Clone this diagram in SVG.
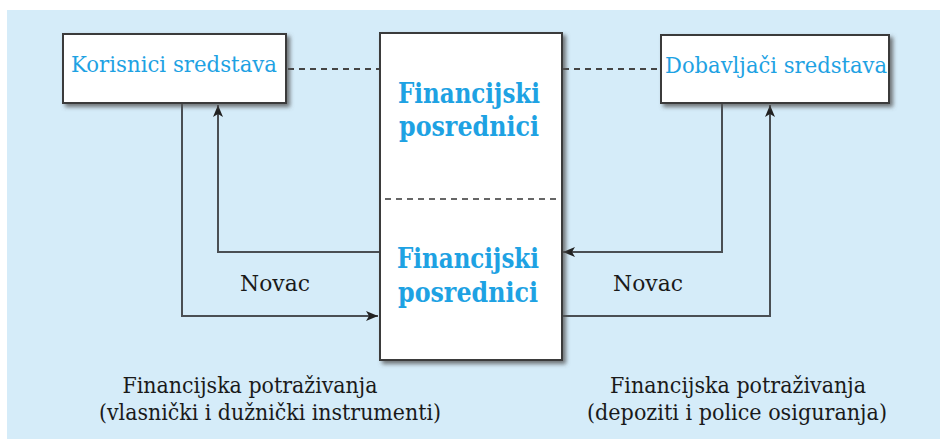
<svg xmlns="http://www.w3.org/2000/svg" width="940" height="439" viewBox="0 0 940 439">
<defs>
<style>
text{font-family:'DejaVu Serif','Liberation Serif',serif}
.box{fill:#fff;stroke:#3a3a3a;stroke-width:2;filter:url(#sh)}
.lbl{font-size:23px;fill:#1ea2e3;text-anchor:middle}
.big{font-size:27px;font-weight:bold;fill:#1ea2e3;text-anchor:middle}
.txt{font-size:23px;fill:#1a1a1a;text-anchor:middle}
.ln{fill:none;stroke:#4a4f54;stroke-width:2}
.dash{fill:none;stroke:#444;stroke-width:2;stroke-dasharray:6 5}
</style>
<filter id="sh" x="-10%" y="-10%" width="130%" height="130%">
<feDropShadow dx="3" dy="3" stdDeviation="2" flood-color="#555" flood-opacity="0.8"/>
</filter>
<marker id="ah" viewBox="0 0 12 10" refX="12" refY="5" markerWidth="12" markerHeight="10" markerUnits="userSpaceOnUse" orient="auto">
<path d="M0,0 L12,5 L0,10 L3,5 Z" fill="#222"/>
</marker>
</defs>
<rect x="0" y="0" width="940" height="439" fill="#fff"/>
<rect x="7" y="10" width="933" height="429" fill="#d5ecf9"/>

<g id="connectors">
<path class="dash" d="M288,69 H379"/>
<path class="dash" d="M563,69 H659"/>
<path class="ln" d="M182,104 V316 H378" marker-end="url(#ah)"/>
<path class="ln" d="M379,252 H218 V105" marker-end="url(#ah)"/>
<path class="ln" d="M722,104 V252 H563" marker-end="url(#ah)"/>
<path class="ln" d="M562,316 H770 V105" marker-end="url(#ah)"/>
</g>

<g id="korisnici">
<rect class="box" x="63" y="34" width="223" height="69"/>
<text class="lbl" x="174" y="72" textLength="206" lengthAdjust="spacingAndGlyphs">Korisnici sredstava</text>
</g>

<g id="posrednici">
<rect class="box" x="380" y="33" width="182" height="327"/>
<path d="M385,199 H560" fill="none" stroke="#666" stroke-width="2" stroke-dasharray="6 5"/>
<text class="big" x="469" y="103" textLength="142" lengthAdjust="spacingAndGlyphs">Financijski</text>
<text class="big" x="469" y="136" textLength="140" lengthAdjust="spacingAndGlyphs">posrednici</text>
<text class="big" x="468" y="268" textLength="142" lengthAdjust="spacingAndGlyphs">Financijski</text>
<text class="big" x="468" y="302" textLength="140" lengthAdjust="spacingAndGlyphs">posrednici</text>
</g>

<g id="dobavljaci">
<rect class="box" x="661" y="35" width="228" height="68"/>
<text class="lbl" x="776" y="73" textLength="222" lengthAdjust="spacingAndGlyphs">Dobavljači sredstava</text>
</g>

<g id="labels">
<text class="txt" x="275" y="291" textLength="70" lengthAdjust="spacingAndGlyphs">Novac</text>
<text class="txt" x="648" y="291" textLength="70" lengthAdjust="spacingAndGlyphs">Novac</text>
<text class="txt" x="250" y="393" textLength="255" lengthAdjust="spacingAndGlyphs">Financijska potraživanja</text>
<text class="txt" x="270" y="420" textLength="342" lengthAdjust="spacingAndGlyphs">(vlasnički i dužnički instrumenti)</text>
<text class="txt" x="738" y="393" textLength="256" lengthAdjust="spacingAndGlyphs">Financijska potraživanja</text>
<text class="txt" x="737" y="420" textLength="300" lengthAdjust="spacingAndGlyphs">(depoziti i police osiguranja)</text>
</g>
</svg>
